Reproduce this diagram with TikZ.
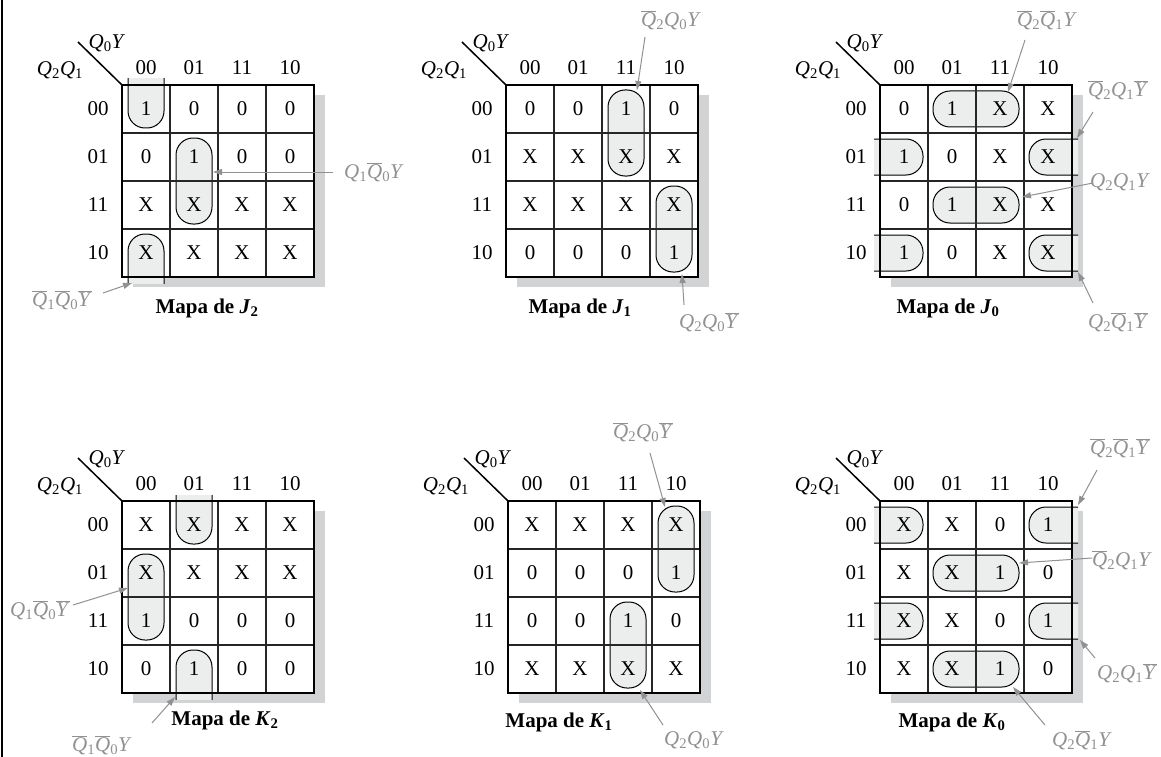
\documentclass[tikz,border=0pt]{standalone}
\usepackage{fontspec}
\setmainfont{Liberation Serif}
\usetikzlibrary{arrows.meta}
\definecolor{shd}{RGB}{210,211,213}
\definecolor{lfill}{RGB}{236,238,238}
\definecolor{lgray}{RGB}{145,145,145}
\newcommand\kQ[1]{\textit{Q}\textsubscript{#1}}
\newcommand\kQb[1]{$\overline{\mbox{\textit{Q}}}$\textsubscript{#1}}
\newcommand\kY{\textit{Y}}
\newcommand\kYb{$\overline{\mbox{\textit{Y}}}$}
\tikzset{
  gridin/.style={line width=1.1pt,black!85},
  gridout/.style={line width=2.4pt,black},
  diag/.style={line width=1.5pt,black},
  hd/.style={font=\fontsize{21}{25}\selectfont,inner sep=1pt},
  cellt/.style={font=\fontsize{21}{25}\selectfont,inner sep=1pt},
  lab/.style={font=\fontsize{21}{25}\selectfont,text=lgray,inner sep=1pt},
  mapa/.style={font=\fontsize{21}{25}\selectfont\bfseries,inner sep=1pt},
  loopst/.style={fill=lfill,draw=black,line width=1pt},
  arr/.style={draw=lgray,line width=1pt,-{Triangle[length=9pt,width=6pt]}},
}
\newcommand\kframe{%
  \fill[shd] (11,10) rectangle (203,202);
  \fill[white] (0,0) rectangle (192,192);}
\newcommand\loopV[3]{\filldraw[loopst,rounded corners=17pt] ({48*#1+6},{48*#2+5}) rectangle ({48*#1+42},{48*#3+43});}
\newcommand\loopH[3]{\filldraw[loopst,rounded corners=17pt] ({48*#2+5},{48*#1+6}) rectangle ({48*#3+43},{48*#1+42});}
\newcommand\loopT[1]{\filldraw[loopst,rounded corners=17pt] ({48*#1+6},-60) rectangle ({48*#1+42},43);}
\newcommand\loopB[1]{\filldraw[loopst,rounded corners=17pt] ({48*#1+6},149) rectangle ({48*#1+42},252);}
\newcommand\loopL[1]{\filldraw[loopst,rounded corners=17pt] (-60,{48*#1+6}) rectangle (43,{48*#1+42});}
\newcommand\loopR[1]{\filldraw[loopst,rounded corners=17pt] (149,{48*#1+6}) rectangle (252,{48*#1+42});}
\newcommand\kgrid[1]{%
  \foreach \i in {48,96,144}{\draw[gridin] (\i,0) -- (\i,192); \draw[gridin] (0,\i) -- (192,\i);}
  \draw[gridout] (0,0) rectangle (192,192);
  \node[hd] (#1-c0) at (24,-17) {00};
  \node[hd] (#1-c1) at (72,-17) {01};
  \node[hd] (#1-c2) at (120,-17) {11};
  \node[hd] (#1-c3) at (168,-17) {10};
  \node[hd] (#1-r0) at (-24,24) {00};
  \node[hd] (#1-r1) at (-24,72) {01};
  \node[hd] (#1-r2) at (-24,120) {11};
  \node[hd] (#1-r3) at (-24,168) {10};
  \coordinate (#1-o) at (0,0);
  \coordinate (#1-d) at (-44,-43);
  \draw[diag] (#1-d) -- (#1-o);
  \node[hd] (#1-v1) at (-15,-42) {\kQ{0}\kY};
  \node[hd] (#1-v2) at (-62,-15) {\kQ{2}\kQ{1}};}
\newcommand\krow[6]{%
  \node[cellt] (#1-#2-0) at (24,{48*#2+24}) {#3};
  \node[cellt] (#1-#2-1) at (72,{48*#2+24}) {#4};
  \node[cellt] (#1-#2-2) at (120,{48*#2+24}) {#5};
  \node[cellt] (#1-#2-3) at (168,{48*#2+24}) {#6};}
\begin{document}
\begin{tikzpicture}[x=1pt,y=-1pt]
\useasboundingbox (0,0) rectangle (1161,757);
\fill[white] (0,0) rectangle (1161,757);
\draw[line width=2.5pt] (2,0) -- (2,757);

% ---- J2
\begin{scope}[shift={(122,85)}]
  \kframe
  \begin{scope}\clip (-6,-6) rectangle (198,198);
    \loopT{0}\loopV{1}{1}{2}\loopB{0}
  \end{scope}
  \kgrid{J2}
  \krow{J2}{0}{1}{0}{0}{0}
  \krow{J2}{1}{0}{1}{0}{0}
  \krow{J2}{2}{X}{X}{X}{X}
  \krow{J2}{3}{X}{X}{X}{X}
\end{scope}
% ---- J1
\begin{scope}[shift={(506,85)}]
  \kframe
  \begin{scope}\clip (-6,-6) rectangle (198,198);
    \loopV{2}{0}{1}\loopV{3}{2}{3}
  \end{scope}
  \kgrid{J1}
  \krow{J1}{0}{0}{0}{1}{0}
  \krow{J1}{1}{X}{X}{X}{X}
  \krow{J1}{2}{X}{X}{X}{X}
  \krow{J1}{3}{0}{0}{0}{1}
\end{scope}
% ---- J0
\begin{scope}[shift={(880,85)}]
  \kframe
  \begin{scope}\clip (-6,-6) rectangle (198,198);
    \loopH{0}{1}{2}\loopH{2}{1}{2}\loopL{1}\loopR{1}\loopL{3}\loopR{3}
  \end{scope}
  \kgrid{J0}
  \krow{J0}{0}{0}{1}{X}{X}
  \krow{J0}{1}{1}{0}{X}{X}
  \krow{J0}{2}{0}{1}{X}{X}
  \krow{J0}{3}{1}{0}{X}{X}
\end{scope}
% ---- K2
\begin{scope}[shift={(122,501)}]
  \kframe
  \begin{scope}\clip (-6,-6) rectangle (198,198);
    \loopT{1}\loopB{1}\loopV{0}{1}{2}
  \end{scope}
  \kgrid{K2}
  \krow{K2}{0}{X}{X}{X}{X}
  \krow{K2}{1}{X}{X}{X}{X}
  \krow{K2}{2}{1}{0}{0}{0}
  \krow{K2}{3}{0}{1}{0}{0}
\end{scope}
% ---- K1
\begin{scope}[shift={(508,501)}]
  \kframe
  \begin{scope}\clip (-6,-6) rectangle (198,198);
    \loopV{3}{0}{1}\loopV{2}{2}{3}
  \end{scope}
  \kgrid{K1}
  \krow{K1}{0}{X}{X}{X}{X}
  \krow{K1}{1}{0}{0}{0}{1}
  \krow{K1}{2}{0}{0}{1}{0}
  \krow{K1}{3}{X}{X}{X}{X}
\end{scope}
% ---- K0
\begin{scope}[shift={(880,501)}]
  \kframe
  \begin{scope}\clip (-6,-6) rectangle (198,198);
    \loopL{0}\loopR{0}\loopL{2}\loopR{2}\loopH{1}{1}{2}\loopH{3}{1}{2}
  \end{scope}
  \kgrid{K0}
  \krow{K0}{0}{X}{X}{0}{1}
  \krow{K0}{1}{X}{X}{1}{0}
  \krow{K0}{2}{X}{X}{0}{1}
  \krow{K0}{3}{X}{X}{1}{0}
\end{scope}

% ---- map titles
\node[mapa] (tJ2) at (207,308) {Mapa de \textit{J}\textsubscript{2}};
\node[mapa] (tJ1) at (580,308) {Mapa de \textit{J}\textsubscript{1}};
\node[mapa] (tJ0) at (948,308) {Mapa de \textit{J}\textsubscript{0}};
\node[mapa] (tK2) at (225,720) {Mapa de \textit{K}\textsubscript{2}};
\node[mapa] (tK1) at (559,722) {Mapa de \textit{K}\textsubscript{1}};
\node[mapa] (tK0) at (952,722) {Mapa de \textit{K}\textsubscript{0}};

% ---- gray term labels
\node[lab] (J2a) at (374,172) {\kQ{1}\kQb{0}\kY};
\node[lab] (J2b) at (62,300) {\kQb{1}\kQb{0}\kYb};
\node[lab] (J1a) at (671,20) {\kQb{2}\kQ{0}\kY};
\node[lab] (J1b) at (709,322) {\kQ{2}\kQ{0}\kYb};
\node[lab] (J0a) at (1047,20) {\kQb{2}\kQb{1}\kY};
\node[lab] (J0b) at (1118,90) {\kQb{2}\kQ{1}\kYb};
\node[lab] (J0c) at (1120,182) {\kQ{2}\kQ{1}\kY};
\node[lab] (J0d) at (1118,322) {\kQ{2}\kQb{1}\kYb};
\node[lab] (K2a) at (40,610) {\kQ{1}\kQb{0}\kYb};
\node[lab] (K2b) at (102,745) {\kQb{1}\kQb{0}\kY};
\node[lab] (K1a) at (643,432) {\kQb{2}\kQ{0}\kYb};
\node[lab] (K1b) at (694,740) {\kQ{2}\kQ{0}\kY};
\node[lab] (K0a) at (1120,448) {\kQb{2}\kQb{1}\kYb};
\node[lab] (K0b) at (1122,560) {\kQb{2}\kQ{1}\kY};
\node[lab] (K0c) at (1127,673) {\kQ{2}\kQ{1}\kYb};
\node[lab] (K0d) at (1082,740) {\kQ{2}\kQb{1}\kY};

% ---- arrow ends
\coordinate (J2a-t) at (333,172); \coordinate (J2a-p) at (213,172);
\coordinate (J2b-t) at (103,293); \coordinate (J2b-p) at (132,283);
\coordinate (J1a-t) at (645,37);  \coordinate (J1a-p) at (637,90);
\coordinate (J1b-t) at (684,305); \coordinate (J1b-p) at (682,274);
\coordinate (J0a-t) at (1025,40); \coordinate (J0a-p) at (1008,92);
\coordinate (J0b-t) at (1093,112);\coordinate (J0b-p) at (1077,138);
\coordinate (J0c-t) at (1093,183);\coordinate (J0c-p) at (1022,197);
\coordinate (J0d-t) at (1093,303);\coordinate (J0d-p) at (1078,272);
\coordinate (K2a-t) at (73,605);  \coordinate (K2a-p) at (128,588);
\coordinate (K2b-t) at (152,723); \coordinate (K2b-p) at (175,697);
\coordinate (K1a-t) at (650,453); \coordinate (K1a-p) at (665,507);
\coordinate (K1b-t) at (663,725); \coordinate (K1b-p) at (640,690);
\coordinate (K0a-t) at (1097,470);\coordinate (K0a-p) at (1078,505);
\coordinate (K0b-t) at (1092,558);\coordinate (K0b-p) at (1019,563);
\coordinate (K0c-t) at (1095,658);\coordinate (K0c-p) at (1080,640);
\coordinate (K0d-t) at (1045,725);\coordinate (K0d-p) at (1013,687);
\foreach \n in {J2a,J2b,J1a,J1b,J0a,J0b,J0c,J0d,K2a,K2b,K1a,K1b,K0a,K0b,K0c,K0d}
  {\draw[arr] (\n-t) -- (\n-p);}
\end{tikzpicture}
\end{document}
